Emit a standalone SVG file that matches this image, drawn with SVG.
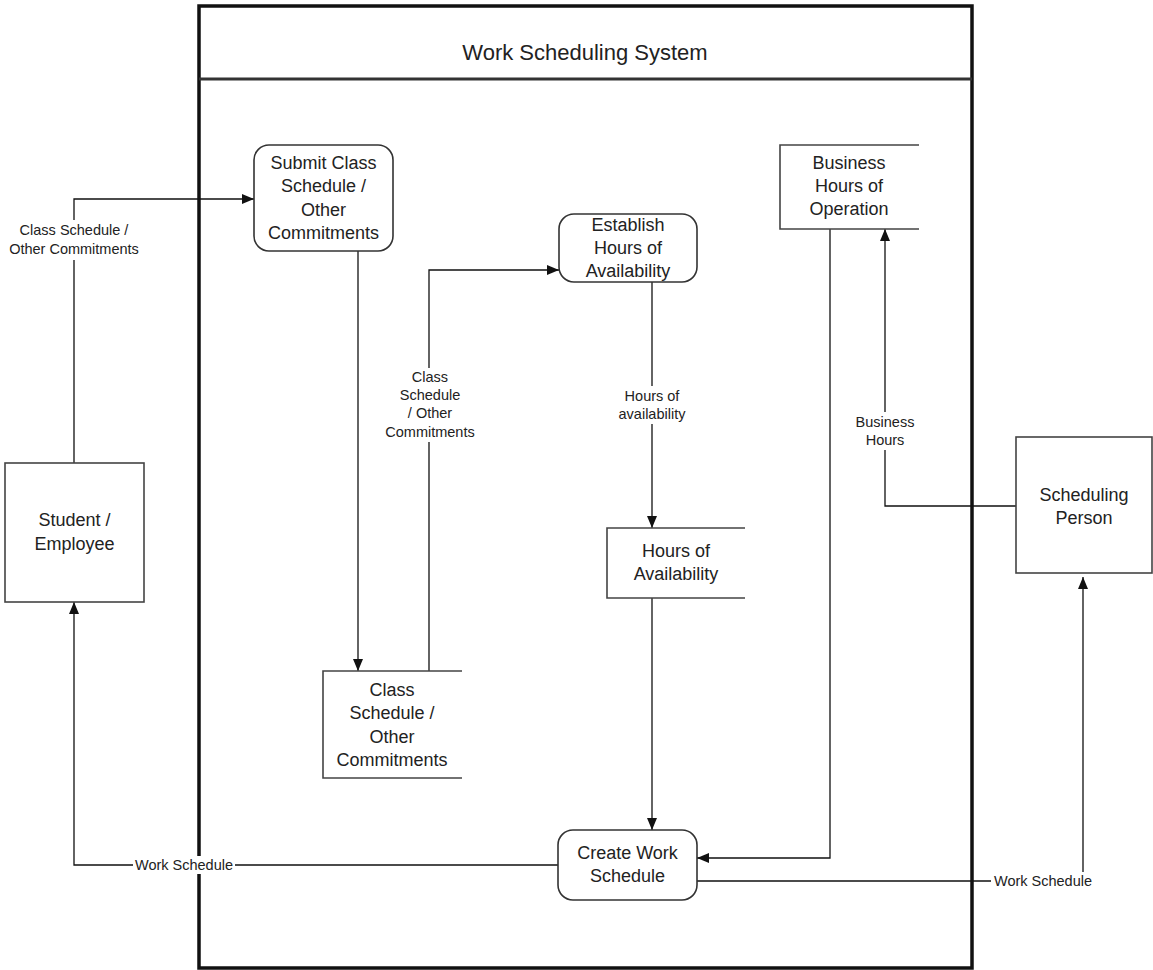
<svg xmlns="http://www.w3.org/2000/svg" width="1153" height="970" viewBox="0 0 1153 970">
<style>
.frame{fill:none;stroke:#111;stroke-width:3.5}
.div{stroke:#333;stroke-width:3}
.proc{fill:#fff;stroke:#333;stroke-width:1.6}
.store{fill:none;stroke:#444;stroke-width:1.6}
.ent{fill:#fff;stroke:#444;stroke-width:1.6}
.conn{fill:none;stroke:#111;stroke-width:1.3}
.nt{font-family:"Liberation Sans",Arial,sans-serif;font-size:18px;fill:#222;text-anchor:middle}
.lt{font-family:"Liberation Sans",Arial,sans-serif;font-size:14.5px;fill:#222;text-anchor:middle}
.tt{font-family:"Liberation Sans",Arial,sans-serif;font-size:22px;fill:#222;text-anchor:middle}
.bg{fill:#fff}
</style>
<defs>
<marker id="arr" viewBox="0 0 12 10" refX="12" refY="5" markerWidth="12" markerHeight="10" markerUnits="userSpaceOnUse" orient="auto">
<path d="M0,0 L12,5 L0,10 Z" fill="#111"/>
</marker>
</defs>
<rect width="1153" height="970" fill="#fff"/>
<g id="system">
<rect class="frame" x="199" y="6" width="773" height="962"/>
<line class="div" x1="199" y1="79" x2="972" y2="79"/>
<text class="tt" x="585" y="60">Work Scheduling System</text>
</g>
<g id="connectors">
<path class="conn" d="M74,463 V199 H254" marker-end="url(#arr)"/>
<path class="conn" d="M358,251 V671" marker-end="url(#arr)"/>
<path class="conn" d="M429,671 V270 H559" marker-end="url(#arr)"/>
<path class="conn" d="M652,282 V528" marker-end="url(#arr)"/>
<path class="conn" d="M652,598 V830" marker-end="url(#arr)"/>
<path class="conn" d="M830,229 V858 H697" marker-end="url(#arr)"/>
<path class="conn" d="M1016,506 H885 V229" marker-end="url(#arr)"/>
<path class="conn" d="M558,865 H74 V602" marker-end="url(#arr)"/>
<path class="conn" d="M697,881 H1083 V577" marker-end="url(#arr)"/>
</g>
<g id="labels">
<rect class="bg" x="8" y="220" width="132" height="40"/>
<text class="lt" x="74" y="235">Class Schedule /</text>
<text class="lt" x="74" y="254">Other Commitments</text>
<rect class="bg" x="388" y="368" width="84" height="74"/>
<text class="lt" x="430" y="382">Class</text>
<text class="lt" x="430" y="400">Schedule</text>
<text class="lt" x="430" y="418">/ Other</text>
<text class="lt" x="430" y="437">Commitments</text>
<rect class="bg" x="615" y="386" width="74" height="38"/>
<text class="lt" x="652" y="401">Hours of</text>
<text class="lt" x="652" y="419">availability</text>
<rect class="bg" x="853" y="412" width="64" height="38"/>
<text class="lt" x="885" y="427">Business</text>
<text class="lt" x="885" y="445">Hours</text>
<rect class="bg" x="133" y="856" width="102" height="18"/>
<text class="lt" x="184" y="870">Work Schedule</text>
<rect class="bg" x="991" y="872" width="104" height="18"/>
<text class="lt" x="1043" y="886">Work Schedule</text>
</g>
<g id="submit">
<rect class="proc" x="254" y="145" width="139" height="106" rx="15"/>
<text class="nt" x="323.5" y="169">Submit Class</text>
<text class="nt" x="323.5" y="192">Schedule /</text>
<text class="nt" x="323.5" y="216">Other</text>
<text class="nt" x="323.5" y="239">Commitments</text>
</g>
<g id="establish">
<rect class="proc" x="559" y="214" width="138" height="68" rx="15"/>
<text class="nt" x="628" y="231">Establish</text>
<text class="nt" x="628" y="254">Hours of</text>
<text class="nt" x="628" y="277">Availability</text>
</g>
<g id="business-hours">
<path class="store" d="M919,145 H780 V229 H919"/>
<text class="nt" x="849" y="169">Business</text>
<text class="nt" x="849" y="192">Hours of</text>
<text class="nt" x="849" y="215">Operation</text>
</g>
<g id="class-store">
<path class="store" d="M462,671 H323 V778 H462"/>
<text class="nt" x="392" y="696">Class</text>
<text class="nt" x="392" y="719">Schedule /</text>
<text class="nt" x="392" y="743">Other</text>
<text class="nt" x="392" y="766">Commitments</text>
</g>
<g id="hours-store">
<path class="store" d="M745,528 H607 V598 H745"/>
<text class="nt" x="676" y="557">Hours of</text>
<text class="nt" x="676" y="580">Availability</text>
</g>
<g id="student">
<rect class="ent" x="5" y="463" width="139" height="139"/>
<text class="nt" x="74.5" y="526">Student /</text>
<text class="nt" x="74.5" y="550">Employee</text>
</g>
<g id="scheduling-person">
<rect class="ent" x="1016" y="437" width="136" height="136"/>
<text class="nt" x="1084" y="501">Scheduling</text>
<text class="nt" x="1084" y="524">Person</text>
</g>
<g id="create">
<rect class="proc" x="558" y="830" width="139" height="70" rx="15"/>
<text class="nt" x="627.5" y="859">Create Work</text>
<text class="nt" x="627.5" y="882">Schedule</text>
</g>
</svg>
